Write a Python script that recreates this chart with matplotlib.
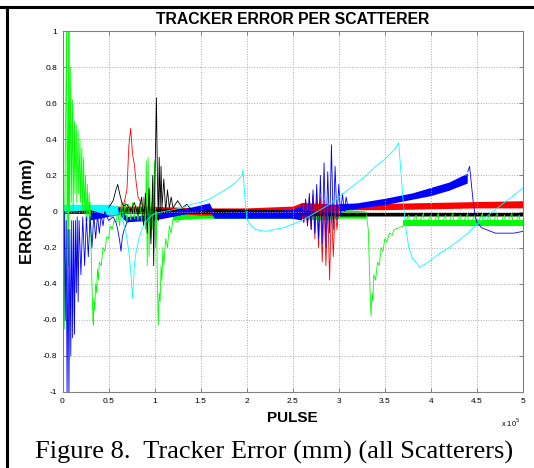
import numpy as np
import matplotlib
matplotlib.use("Agg")
import matplotlib.pyplot as plt
from matplotlib.lines import Line2D
from matplotlib.ticker import FuncFormatter

# -------------------------------
# Data (pulse in units of 1e5, error in mm)
# -------------------------------
nan = np.nan

# dense oscillation bands: x, lower edge, upper edge
red_band_x = [0.0, 0.3, 0.65, 0.9, 1.5, 2.0, 2.5, 2.6, 3.0, 3.5, 4.0, 4.5, 5.0]
red_band_lo = [0.0, 0.0, 0.0, 0.0, -0.02, -0.02, -0.02, -0.04, 0.01, 0.01, 0.015, 0.02, 0.02]
red_band_hi = [0.03, 0.03, 0.03, 0.03, 0.02, 0.02, 0.03, 0.05, 0.04, 0.045, 0.05, 0.055, 0.06]

black_band_x = [0.0, 0.5, 1.5, 2.5, 3.0, 4.0, 5.0]
black_band_lo = [-0.01, -0.01, -0.01, -0.02, -0.025, -0.025, -0.025]
black_band_hi = [0.015, 0.02, 0.015, 0.01, -0.005, -0.005, -0.005]

green_band_x = [1.2, 1.5, 2.0, 2.5, 2.8, 3.0, 3.3, nan, 3.7, 4.0, 4.5, 5.0]
green_band_lo = [-0.05, -0.04, -0.04, -0.04, -0.05, -0.04, -0.04, nan, -0.08, -0.08, -0.08, -0.08]
green_band_hi = [0.0, 0.01, 0.01, 0.02, 0.02, 0.01, 0.0, nan, -0.045, -0.045, -0.045, -0.045]

blue_band_x = [0.3, 0.5, 0.62, 0.7, 1.0, 1.3, 1.6, 1.65, 2.0, 2.3, 2.5, 2.6, nan,
               3.0, 3.2, 3.5, 3.8, 4.0, 4.2, 4.4]
blue_band_lo = [-0.05, -0.03, -0.02, -0.06, -0.05, -0.02, 0.01, -0.04, -0.04, -0.04, -0.04, -0.05, nan,
                0.0, 0.015, 0.035, 0.065, 0.085, 0.115, 0.155]
blue_band_hi = [-0.01, 0.01, 0.02, -0.03, -0.02, 0.01, 0.045, -0.01, 0.0, 0.0, 0.01, 0.03, nan,
                0.04, 0.045, 0.07, 0.10, 0.13, 0.16, 0.21]

cyan_band_x = [0.0, 0.3, 0.5, 0.6]
cyan_band_lo = [0.0, 0.01, -0.02, -0.02]
cyan_band_hi = [0.04, 0.04, 0.04, 0.03]

# individual traces
red_x = [0.66, 0.70, 0.72, 0.74, 0.76, 0.78, 0.80, 0.82, 0.85, 0.90, nan,
         2.60, 2.62, 2.64, 2.66, 2.68, 2.70, 2.72, 2.74, 2.76, 2.78, 2.80,
         2.82, 2.84, 2.86, 2.88, 2.90, 2.92, 2.94, 2.96, 2.98, 3.00]
red_y = [0.03, 0.12, 0.36, 0.46, 0.32, 0.26, 0.16, 0.08, 0.05, 0.02, nan,
         0.04, -0.06, 0.06, -0.08, 0.08, -0.10, 0.09, -0.15, 0.10, -0.20, 0.08,
         -0.28, 0.06, -0.30, 0.04, -0.38, 0.03, -0.25, 0.02, -0.10, 0.02]

black_x = [0.50, 0.55, 0.58, 0.60, 0.62, 0.64, 0.66, 0.70, 0.74, 0.78, 0.82, 0.86,
           0.88, 0.90, 0.92, 0.94, 0.96, 0.98, 0.99, 1.00, 1.01, 1.02, 1.03, 1.04,
           1.05, 1.06, 1.07, 1.08, 1.10, 1.12, 1.14, 1.16, 1.18, 1.20, 1.25, 1.30,
           1.35, 1.40]
black_y = [0.02, 0.06, 0.12, 0.15, 0.10, 0.06, 0.03, 0.04, 0.0, 0.05, -0.02, 0.08,
           -0.08, 0.10, -0.12, 0.13, -0.18, 0.20, -0.30, 0.10, 0.35, 0.63, 0.20, -0.05,
           0.30, 0.0, 0.25, 0.02, 0.18, 0.0, 0.12, 0.02, 0.08, 0.02, 0.06, 0.02,
           0.04, 0.01]

green_x = [0.000, 0.010, 0.020, 0.030, 0.045, 0.050, 0.060, 0.065, 0.070, 0.075,
           0.090, 0.095, 0.110, 0.115, 0.130, 0.135, 0.150, 0.155, 0.170, 0.175,
           0.190, 0.195, 0.210, 0.215, 0.230, 0.235, 0.250, 0.255, 0.270, 0.275,
           0.290, 0.295, 0.30, 0.31, 0.32, 0.33, 0.335, 0.34, 0.35, 0.36,
           0.37, 0.38, 0.39, 0.40, 0.42, 0.44, 0.46, 0.48, 0.50, 0.52,
           0.54, 0.56, 0.58, 0.60, 0.62, 0.64, 0.66, 0.68, 0.70, 0.72,
           0.74, 0.76, 0.78, 0.80, 0.82, 0.84, 0.86, 0.88, 0.90, 0.91,
           0.92, 0.93, 0.94, 0.95, 0.96, 0.97, 0.98, 0.99, 1.00, 1.01,
           1.02, 1.03, 1.04, 1.05, 1.06, 1.07, 1.08, 1.09, 1.10, 1.12,
           1.14, 1.16, 1.18, 1.20, 1.25, 1.30, nan,
           3.30, 3.32, 3.34, 3.35, 3.36, 3.37, 3.38, 3.40, 3.42, 3.44,
           3.46, 3.48, 3.50, 3.52, 3.55, 3.58, 3.60, 3.65, 3.70,
           3.76, 3.77, 3.84, 3.85, 3.92, 3.93, 4.00, 4.01, 4.08, 4.09,
           4.16, 4.17, 4.24, 4.25, 4.32, 4.33, 4.40, 4.41, 4.48, 4.49,
           4.56, 4.57, 4.64, 4.65, 4.72, 4.73, 4.80, 4.81, 4.88, 4.89,
           4.96, 4.97, 5.00]
green_y = [-0.10, 0.45, -0.65, 0.30, 1.05, -0.20, 0.60, -0.30, 1.05, 0.0,
           0.80, 0.05, 0.62, 0.0, 0.50, 0.10, 0.48, 0.05, 0.45, 0.10,
           0.40, 0.05, 0.35, 0.0, 0.30, 0.0, 0.20, -0.05, 0.15, -0.05,
           0.10, -0.10, 0.05, -0.20, -0.40, -0.60, -0.63, -0.48, -0.55, -0.40,
           -0.45, -0.32, -0.38, -0.28, -0.30, -0.20, -0.22, -0.14, -0.15, -0.08,
           -0.10, -0.05, -0.06, 0.0, -0.08, 0.05, -0.05, 0.06, -0.06, 0.04,
           -0.05, 0.05, -0.04, 0.03, -0.05, 0.05, -0.06, 0.08, -0.10, 0.28,
           -0.30, 0.30, -0.25, 0.12, -0.15, 0.05, -0.10, 0.08, 0.28, -0.20,
           0.0, -0.40, -0.63, -0.45, -0.50, -0.30, -0.38, -0.20, -0.30, -0.15,
           -0.20, -0.08, -0.12, -0.04, -0.06, -0.02, nan,
           -0.02, -0.10, -0.45, -0.58, -0.45, -0.50, -0.35, -0.38, -0.28, -0.30,
           -0.20, -0.22, -0.15, -0.17, -0.12, -0.13, -0.10, -0.09, -0.08,
           -0.02, -0.08, -0.02, -0.08, -0.01, -0.08, -0.02, -0.08, -0.01, -0.08,
           -0.02, -0.08, -0.01, -0.08, -0.02, -0.08, -0.01, -0.08, -0.02, -0.08,
           -0.01, -0.08, -0.02, -0.08, -0.01, -0.08, -0.02, -0.08, -0.01, -0.08,
           -0.02, -0.08, -0.05]

blue_x = [0.00, 0.01, 0.02, 0.03, 0.04, 0.05, 0.06, 0.07, 0.08, 0.09,
          0.10, 0.11, 0.12, 0.13, 0.14, 0.15, 0.16, 0.17, 0.18, 0.20,
          0.22, 0.24, 0.26, 0.28, 0.30, 0.32, 0.34, 0.36, 0.38, 0.40,
          0.42, 0.44, 0.46, 0.50, 0.55, 0.58, 0.60, 0.62, 0.635, 0.65,
          0.67, 0.70, 0.75, nan,
          2.60, 2.62, 2.64, 2.66, 2.68, 2.70, 2.72, 2.74, 2.76, 2.78,
          2.80, 2.82, 2.84, 2.86, 2.88, 2.90, 2.92, 2.94, 2.96, 2.98,
          3.00, 3.02, 3.04, 3.06, 3.08, 3.10, nan,
          4.40, 4.42, 4.44, 4.46, 4.48, 4.50, 4.55, 4.60, 4.65, 4.70,
          4.80, 4.90, 5.00]
blue_y = [0.0, -0.35, 0.0, -0.60, -0.05, -1.05, -0.10, -1.05, -0.10, -0.80,
          -0.05, -0.70, -0.05, -0.68, -0.05, -0.45, -0.03, -0.50, -0.05, -0.35,
          -0.03, -0.30, -0.03, -0.25, -0.03, -0.20, -0.02, -0.15, -0.02, -0.12,
          -0.02, -0.08, 0.0, -0.05, -0.03, -0.06, -0.10, -0.16, -0.22, -0.14,
          -0.10, -0.06, -0.05, nan,
          0.04, -0.06, 0.07, -0.08, 0.10, -0.10, 0.12, -0.12, 0.15, -0.15,
          0.20, -0.18, 0.27, -0.20, 0.22, -0.12, 0.37, -0.10, 0.25, -0.05,
          0.15, -0.02, 0.10, 0.0, 0.08, 0.02, nan,
          0.22, 0.25, 0.15, 0.05, -0.02, -0.06, -0.09, -0.10, -0.11, -0.12,
          -0.12, -0.12, -0.11]

cyan_x = [0.60, 0.63, 0.66, 0.69, 0.72, 0.74, 0.76, 0.77, 0.78, 0.80,
          0.83, 0.86, 0.90, 0.95, 1.00, 1.10, 1.20, 1.30, 1.40, 1.50,
          1.60, 1.70, 1.80, 1.90, 1.95, 1.96, 1.98, 2.00, 2.05, 2.10,
          2.20, 2.30, 2.40, 2.50, 2.60, 2.70, 2.80, 2.90, 3.00, 3.10,
          3.20, 3.30, 3.40, 3.50, 3.60, 3.65, 3.67, 3.70, 3.73, 3.76,
          3.80, 3.85, 3.88, 4.00, 4.10, 4.20, 4.30, 4.40, 4.50, 4.60,
          4.70, 4.80, 4.90, 5.00]
cyan_y = [0.0, -0.02, -0.06, -0.12, -0.22, -0.32, -0.48, -0.40, -0.30, -0.22,
          -0.15, -0.10, -0.06, -0.03, -0.01, 0.0, 0.01, 0.02, 0.04, 0.05,
          0.07, 0.10, 0.13, 0.17, 0.20, 0.23, 0.08, -0.04, -0.08, -0.10,
          -0.11, -0.10, -0.09, -0.07, -0.05, -0.02, 0.01, 0.04, 0.08, 0.12,
          0.16, 0.20, 0.25, 0.29, 0.34, 0.38, 0.25, 0.05, -0.10, -0.20,
          -0.26, -0.29, -0.31, -0.27, -0.23, -0.20, -0.16, -0.12, -0.07, -0.03,
          0.01, 0.05, 0.09, 0.13]

x_ticks = [0, 0.5, 1, 1.5, 2, 2.5, 3, 3.5, 4, 4.5, 5]
y_ticks = [-1, -0.8, -0.6, -0.4, -0.2, 0, 0.2, 0.4, 0.6, 0.8, 1]
PULSE_SCALE = 1e5

# -------------------------------
# Plot
# -------------------------------
plt.rcParams['font.family'] = ['Liberation Sans', 'DejaVu Sans']

fig = plt.figure(figsize=(5.34, 4.68), dpi=100)
ax = fig.add_axes([62.5 / 534, 76 / 468, 460.5 / 534, 361 / 468])

series = [
    ('#00ff00', green_band_x, green_band_lo, green_band_hi, green_x, green_y),
    ('#ff0000', red_band_x, red_band_lo, red_band_hi, red_x, red_y),
    ('#000000', black_band_x, black_band_lo, black_band_hi, black_x, black_y),
    ('#0000ff', blue_band_x, blue_band_lo, blue_band_hi, blue_x, blue_y),
    ('#00ffff', cyan_band_x, cyan_band_lo, cyan_band_hi, cyan_x, cyan_y),
]
for color, bx, blo, bhi, tx, ty in series:
    bx = np.array(bx) * PULSE_SCALE
    ax.fill_between(bx, blo, bhi, color=color, lw=0)
    ax.plot(np.array(tx) * PULSE_SCALE, ty, color=color, lw=0.6)

ax.set_xlim(0, 5 * PULSE_SCALE)
ax.set_ylim(-1, 1)
ax.set_xticks(np.array(x_ticks) * PULSE_SCALE)
ax.set_yticks(y_ticks)
ax.xaxis.set_major_formatter(FuncFormatter(lambda v, p: '%g' % (v / PULSE_SCALE)))
ax.yaxis.set_major_formatter(FuncFormatter(lambda v, p: '%g' % v))
ax.grid(True, color='#a8a8a8', linestyle=':', linewidth=0.7)
ax.tick_params(direction='in', length=3, width=0.6, color='#707070',
               labelsize=6, top=True, right=True, pad=4)
for s in ax.spines.values():
    s.set_color('#808080')
    s.set_linewidth(0.8)

ax.set_title('TRACKER ERROR PER SCATTERER', fontsize=11.3, fontweight='bold', pad=5)
ax.set_xlabel('PULSE', fontsize=11, fontweight='bold', labelpad=5)
ax.set_ylabel('ERROR (mm)', fontsize=12, fontweight='bold', labelpad=5.5)
ax.text(0.995, -0.085, r'x 10$^{5}$', transform=ax.transAxes, ha='right',
        va='center', fontsize=5.5)

# page border lines and caption
fig.add_artist(Line2D([0, 1], [1 - 6.5 / 468, 1 - 6.5 / 468], color='black',
                      lw=2.2, transform=fig.transFigure))
fig.add_artist(Line2D([7 / 534, 7 / 534], [0, 1 - 6.5 / 468], color='black',
                      lw=2.2, transform=fig.transFigure))
fig.text(274 / 534, 1 - 452 / 468, 'Figure 8.  Tracker Error (mm) (all Scatterers)',
         family='Liberation Serif', fontsize=19, ha='center', va='center')

fig.savefig('out.png', dpi=100)
